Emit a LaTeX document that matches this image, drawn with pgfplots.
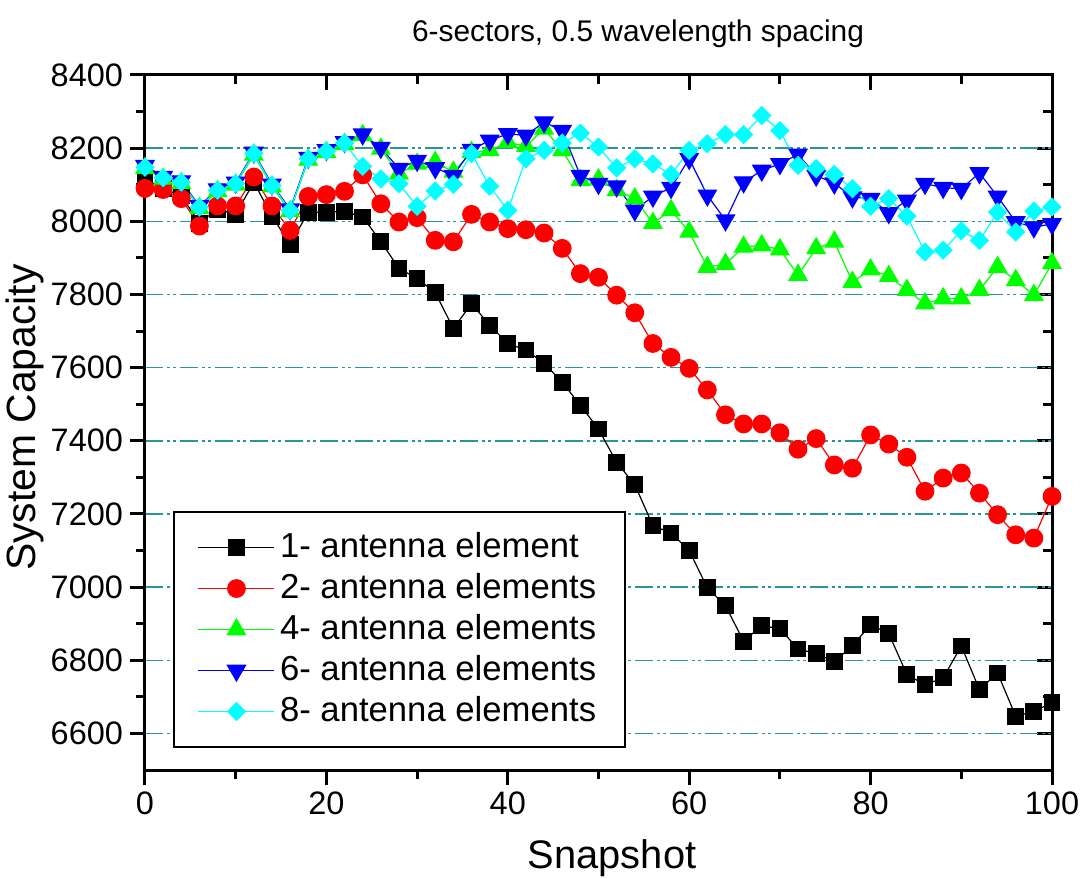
\documentclass[border=0pt]{standalone}
\usepackage{pgfplots}
\pgfplotsset{compat=1.18}
\usepackage{fontspec}
\setmainfont{Liberation Sans}

\definecolor{gridteal}{RGB}{40,150,150}
\definecolor{cyanish}{RGB}{0,255,255}
\definecolor{greenish}{RGB}{0,255,0}

% one px of the reference = 0.5bp
\pgfplotsset{
  common/.style={
    width=453.5bp, height=347.5bp, scale only axis,
    xmin=0, xmax=100, ymin=6500, ymax=8400,
    xtick={0,20,...,100}, ytick={6600,6800,...,8400},
    minor x tick num=1, minor y tick num=1,
    major tick length=7.5bp, minor tick length=4.5bp,
    axis line style={line width=1.5bp},
    every tick/.style={black, line width=1.5bp},
  },
}

\begin{document}
\begin{tikzpicture}
% top and right ticks point inwards
\begin{axis}[common,
    xtick pos=top, ytick pos=right, tick align=inside,
    xticklabels={}, yticklabels={},
]
\end{axis}

\begin{axis}[common,
    xtick pos=bottom, ytick pos=left, tick align=outside,
    /pgf/number format/assume math mode=true,
    /pgf/number format/1000 sep={},
    tick label style={font=\fontsize{16.3}{18}\selectfont},
    ymajorgrids=true,
    grid style={gridteal, line width=0.75bp,
      dash pattern=on 9bp off 2bp on 1.5bp off 1.5bp on 1.5bp off 2bp},
    every axis title shift=0pt,
    title={6-sectors, 0.5 wavelength spacing},
    title style={font=\fontsize{15}{18}\selectfont, at={(0.5436,1.060)}, anchor=center},
    xlabel={Snapshot},
    xlabel style={font=\fontsize{20}{24}\selectfont, at={(0.515,-0.127)}, anchor=center},
    ylabel={System Capacity},
    ylabel style={font=\fontsize{20.5}{24}\selectfont, at={(-0.132,0.507)}, anchor=center},
    legend cell align=left,
    legend image code/.code={\draw[mark repeat=2,mark phase=2]
      plot coordinates {(0bp,0bp) (19bp,0bp) (38bp,0bp)};},
    legend style={at={(0.031,0.032)}, anchor=south west,
      draw=black, line width=0.75bp, fill=white,
      font=\fontsize{17.4}{20}\selectfont,
      inner xsep=12bp, inner ysep=7.5bp, row sep=0pt,
      nodes={text height=12.5bp, text depth=3bp, inner sep=2.5bp}},
]

\addplot[black, line width=0.6bp, mark=square*, mark size=3.9bp,
  mark options={solid, fill=black}] coordinates {
 (0,8115) (2,8090) (4,8070) (6,7995) (8,8033) (10,8019) (12,8107) (14,8014)
 (16,7937) (18,8025) (20,8025) (22,8027) (24,8012) (26,7945) (28,7871) (30,7844)
 (32,7805) (34,7707) (36,7775) (38,7716) (40,7666) (42,7648) (44,7612) (46,7560)
 (48,7497) (50,7432) (52,7341) (54,7280) (56,7168) (58,7148) (60,7100) (62,6998)
 (64,6949) (66,6852) (68,6895) (70,6886) (72,6831) (74,6818) (76,6796) (78,6840)
 (80,6897) (82,6873) (84,6761) (86,6733) (88,6752) (90,6839) (92,6720) (94,6765)
 (96,6647) (98,6660) (100,6684)
};
\addlegendentry{1- antenna element}

\addplot[red, line width=0.6bp, mark=*, mark size=4.4bp,
  mark options={solid, fill=red}] coordinates {
 (0,8090) (2,8087) (4,8062) (6,7987) (8,8042) (10,8042) (12,8121) (14,8042)
 (16,7975) (18,8068) (20,8073) (22,8082) (24,8127) (26,8048) (28,7998) (30,8010)
 (32,7948) (34,7944) (36,8019) (38,7998) (40,7980) (42,7977) (44,7968) (46,7926)
 (48,7857) (50,7847) (52,7798) (54,7750) (56,7666) (58,7628) (60,7598) (62,7539)
 (64,7471) (66,7446) (68,7446) (70,7422) (72,7377) (74,7406) (76,7334) (78,7325)
 (80,7416) (82,7391) (84,7355) (86,7262) (88,7298) (90,7312) (92,7257) (94,7198)
 (96,7143) (98,7134) (100,7248)
};
\addlegendentry{2- antenna elements}

\addplot[greenish, line width=0.6bp, mark=triangle*, mark size=5.2bp,
  mark options={solid, fill=greenish}] coordinates {
 (0,8145) (2,8116) (4,8104) (6,8036) (8,8082) (10,8100) (12,8182) (14,8095)
 (16,8027) (18,8168) (20,8189) (22,8211) (24,8235) (26,8198) (28,8130) (30,8157)
 (32,8162) (34,8135) (36,8189) (38,8194) (40,8216) (42,8205) (44,8253) (46,8194)
 (48,8112) (50,8114) (52,8085) (54,8062) (56,7995) (58,8030) (60,7971) (62,7875)
 (64,7883) (66,7930) (68,7934) (70,7923) (72,7853) (74,7926) (76,7944) (78,7834)
 (80,7868) (82,7850) (84,7812) (86,7775) (88,7789) (90,7789) (92,7812) (94,7875)
 (96,7839) (98,7798) (100,7885)
};
\addlegendentry{4- antenna elements}

\addplot[blue, line width=0.6bp, mark=triangle*, mark size=5.2bp,
  mark options={solid, fill=blue, rotate=180}] coordinates {
 (0,8152) (2,8122) (4,8110) (6,8042) (8,8088) (10,8106) (12,8188) (14,8101)
 (16,8033) (18,8174) (20,8195) (22,8217) (24,8238) (26,8201) (28,8144) (30,8166)
 (32,8146) (34,8125) (36,8196) (38,8221) (40,8239) (42,8235) (44,8271) (46,8248)
 (48,8125) (50,8103) (52,8096) (54,8030) (56,8068) (58,8092) (60,8171) (62,8071)
 (64,8003) (66,8107) (68,8139) (70,8157) (72,8183) (74,8125) (76,8104) (78,8066)
 (80,8062) (82,8023) (84,8057) (86,8103) (88,8092) (90,8089) (92,8132) (94,8068)
 (96,7998) (98,7984) (100,7993)
};
\addlegendentry{6- antenna elements}

\addplot[cyanish, line width=0.6bp, mark=square*, mark size=3.1bp,
  mark options={solid, fill=cyanish, rotate=45}] coordinates {
 (0,8148) (2,8119) (4,8107) (6,8039) (8,8085) (10,8103) (12,8185) (14,8098)
 (16,8030) (18,8171) (20,8192) (22,8214) (24,8150) (26,8116) (28,8103) (30,8041)
 (32,8083) (34,8101) (36,8185) (38,8096) (40,8030) (42,8171) (44,8194) (46,8214)
 (48,8241) (50,8203) (52,8146) (54,8171) (56,8157) (58,8128) (60,8194) (62,8212)
 (64,8237) (66,8237) (68,8289) (70,8248) (72,8153) (74,8144) (76,8128) (78,8089)
 (80,8041) (82,8062) (84,8014) (86,7916) (88,7921) (90,7974) (92,7948) (94,8025)
 (96,7971) (98,8028) (100,8039)
};
\addlegendentry{8- antenna elements}

\coordinate (bl) at (rel axis cs:-0.15987,-0.15683);
\coordinate (tr) at (rel axis cs:1.03197,1.10791);
\end{axis}
\pgfresetboundingbox
\path[use as bounding box] (bl) rectangle (tr);
\end{tikzpicture}
\end{document}
